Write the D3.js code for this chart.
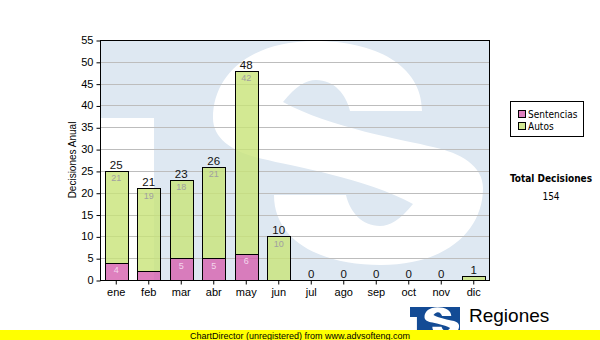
<!DOCTYPE html>
<html><head><meta charset="utf-8">
<script src="https://cdn.jsdelivr.net/npm/d3@7"></script>
<style>
html,body{margin:0;padding:0;background:#fff;}
svg{display:block;}
</style></head>
<body>
<svg id="chart" width="600" height="340"></svg>
<script>
const months = ['ene','feb','mar','abr','may','jun','jul','ago','sep','oct','nov','dic'];
const sentencias = [4,2,5,5,6,0,0,0,0,0,0,0];
const autos = [21,19,18,21,42,10,0,0,0,0,0,1];
const yTicks = [0,5,10,15,20,25,30,35,40,45,50,55];
const seriesNames = ['Sentencias','Autos'];
const seriesColors = ['rgb(214,96,174)','rgb(200,228,120)'];
const yTitle = 'Decisiones Anual';
const totalTitle = 'Total Decisiones';
const footer = 'ChartDirector (unregistered) from www.advsofteng.com';
const logoText = 'Regiones';

const svg = d3.select('#chart');
const L = 100, R = 490, T = 40, B = 280;
const x = d3.scaleBand().domain(months).range([L, R]).paddingInner(0.28).paddingOuter(0.14);
const y = d3.scaleLinear().domain([0, 55]).range([B, T]);
const arial = "'Liberation Sans', Arial, sans-serif";
const tahoma = "'DejaVu Sans Condensed','DejaVu Sans', sans-serif";

svg.append('rect').attr('width', 600).attr('height', 340).attr('fill', '#fff');

// logo shape (local box 390x240)
const sPath = 'M 322,71 C 322,25 275,1 215,1 C 150,1 113,35 113,78 C 113,100 135,113 163,119 ' +
  'C 191,126 266,138 313,164 C 300,180 290,186 280,186 C 262,186 250,172 246,155 L 174,155 ' +
  'C 174,201 221,225 281,225 C 346,225 383,191 383,148 C 383,126 361,113 333,107 ' +
  'C 305,100 230,88 183,62 C 196,46 206,40 216,40 C 234,40 246,54 250,71 Z';
function drawLogo(g, bg, fg, id) {
  g.append('clipPath').attr('id', id).append('rect').attr('width', 390).attr('height', 240);
  const c = g.append('g').attr('clip-path', `url(#${id})`);
  c.append('rect').attr('width', 390).attr('height', 240).attr('fill', bg);
  c.append('rect').attr('x', 0).attr('y', 78).attr('width', 54).attr('height', 162).attr('fill', fg);
  c.append('path').attr('d', sPath).attr('fill', fg);
}
drawLogo(svg.append('g').attr('transform', `translate(${L},${T})`), 'rgb(222,232,242)', '#fff', 'wm');

// grid
svg.append('g').selectAll('line').data(yTicks.filter(v => v > 0 && v < 55)).join('line')
  .attr('x1', L).attr('x2', R).attr('y1', d => Math.round(y(d)) + 0.5).attr('y2', d => Math.round(y(d)) + 0.5)
  .attr('stroke', '#bdbdbd').attr('stroke-width', 1);

// bars
const data = months.map((m, i) => ({ m, s: sentencias[i], a: autos[i], t: sentencias[i] + autos[i] }));
const bw = x.bandwidth();
const bars = svg.append('g');
data.forEach(d => {
  const x0 = Math.round(x(d.m)) + 0.5;
  const w = Math.round(bw);
  if (d.s > 0) {
    bars.append('rect').attr('x', x0).attr('y', Math.round(y(d.s)) + 0.5)
      .attr('width', w).attr('height', Math.round(y(0)) - Math.round(y(d.s)))
      .attr('fill', seriesColors[0]).attr('fill-opacity', 0.8).attr('stroke', '#000');
  }
  if (d.a > 0) {
    bars.append('rect').attr('x', x0).attr('y', Math.round(y(d.t)) + 0.5)
      .attr('width', w).attr('height', Math.round(y(d.s)) - Math.round(y(d.t)))
      .attr('fill', seriesColors[1]).attr('fill-opacity', 0.8).attr('stroke', '#000');
  }
});

// inner labels
const lab = svg.append('g').attr('font-family', arial).attr('font-size', 9).attr('text-anchor', 'middle');
data.forEach(d => {
  const cx = x(d.m) + bw / 2;
  if (y(0) - y(d.s) > 12) {
    lab.append('text').attr('x', cx).attr('y', y(d.s) + 10.5).attr('fill', '#f4d6ec').text(d.s);
  }
  if (y(d.s) - y(d.t) > 12) {
    lab.append('text').attr('x', cx).attr('y', y(d.t) + 10.5).attr('fill', '#a0a0a0').text(d.a);
  }
});
// totals
svg.append('g').attr('font-family', arial).attr('font-size', 11.5).attr('text-anchor', 'middle')
  .selectAll('text').data(data).join('text')
  .attr('x', d => x(d.m) + bw / 2).attr('y', d => y(d.t) - 2).attr('fill', '#111').text(d => d.t);

// frame
svg.append('rect').attr('x', L + 0.5).attr('y', T + 0.5).attr('width', R - L - 1).attr('height', B - T)
  .attr('fill', 'none').attr('stroke', '#000');

// axes
const yAxis = d3.axisLeft(y).tickValues(yTicks).tickSize(4).tickPadding(3);
const gy = svg.append('g').attr('transform', `translate(${L + 0.5},0)`).call(yAxis);
const xAxis = d3.axisBottom(x).tickSize(4).tickPadding(4);
const gx = svg.append('g').attr('transform', `translate(0,${B + 0.5})`).call(xAxis);
[gy, gx].forEach(g => {
  g.selectAll('path').remove();
  g.selectAll('line').attr('stroke', '#000');
  g.selectAll('text').attr('font-family', arial).attr('font-size', 11).attr('fill', '#000');
});
gy.selectAll('.tick line').attr('transform', 'translate(0,0.5)');
svg.append('line').attr('x1', L + 0.5).attr('x2', L + 0.5).attr('y1', T).attr('y2', B + 1).attr('stroke', '#000');
svg.append('line').attr('x1', L).attr('x2', R).attr('y1', B + 0.5).attr('y2', B + 0.5).attr('stroke', '#000');

// y title
svg.append('text').attr('transform', `translate(76,160) rotate(-90)`).attr('text-anchor', 'middle')
  .attr('font-family', arial).attr('font-size', 10).attr('fill', '#000').text(yTitle);

// legend
const lg = svg.append('g');
lg.append('rect').attr('x', 510.5).attr('y', 101.5).attr('width', 73).attr('height', 35)
  .attr('fill', '#fff').attr('stroke', '#000');
seriesNames.forEach((n, i) => {
  lg.append('rect').attr('x', 518.5).attr('y', 110.5 + i * 12).attr('width', 7).attr('height', 7)
    .attr('fill', seriesColors[i]).attr('fill-opacity', 0.8).attr('stroke', '#000');
  lg.append('text').attr('x', 528).attr('y', 118 + i * 12).attr('font-family', tahoma)
    .attr('font-size', 10).attr('fill', '#000').text(n);
});

// total
svg.append('text').attr('x', 551).attr('y', 182).attr('text-anchor', 'middle').attr('font-family', tahoma)
  .attr('font-weight', 'bold').attr('font-size', 10).attr('fill', '#000').text(totalTitle);
svg.append('text').attr('x', 551).attr('y', 200).attr('text-anchor', 'middle').attr('font-family', tahoma)
  .attr('font-size', 10).attr('fill', '#000').text(d3.sum(data, d => d.t));

// bottom logo
drawLogo(svg.append('g').attr('transform', 'translate(410,307) scale(0.1282)'), '#134b95', '#fff', 'lg');
svg.append('text').attr('x', 469).attr('y', 322).attr('font-family', arial).attr('font-size', 19)
  .attr('fill', '#000').text(logoText);

// footer
svg.append('rect').attr('x', 0).attr('y', 330).attr('width', 600).attr('height', 10).attr('fill', '#ffff00');
svg.append('text').attr('x', 300).attr('y', 338.5).attr('text-anchor', 'middle').attr('font-family', arial)
  .attr('font-size', 9).attr('fill', '#000').text(footer);
</script>
</body></html>
